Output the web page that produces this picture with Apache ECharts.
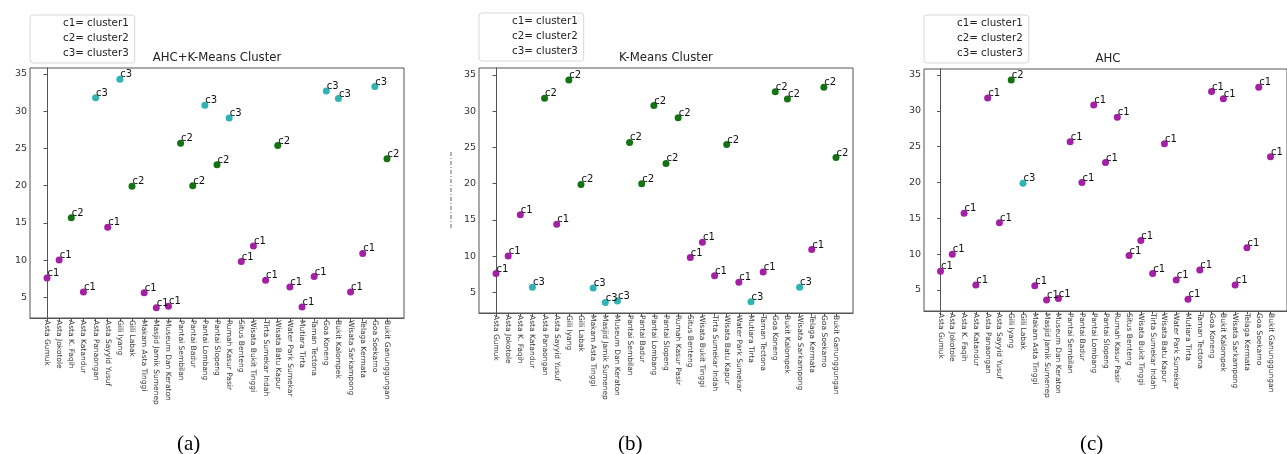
<!DOCTYPE html>
<html>
<head>
<meta charset="utf-8">
<script src="https://cdn.jsdelivr.net/npm/echarts@6/dist/echarts.min.js"></script>
<style>
html,body{margin:0;padding:0;background:#fff;}
#chart{width:1287px;height:454px;}
</style>
</head>
<body>
<div id="chart"></div>
<script>
// ---- data ----
const categories = ['Asta Gumuk','Asta Jokotole','Asta K. Faqih','Asta Katandur','Asta Panaongan','Asta Sayyid Yusuf','Gili Iyang','Gili Labak','Makam Asta Tinggi','Masjid Jamik Sumenep','Museum Dan Keraton','Pantai Sembilan','Pantai Badur','Pantai Lombang','Pantai Slopeng','Rumah Kasur Pasir','Situs Benteng','Wisata Bukit Tinggi','Tirta Sumekar Indah','Wisata Batu Kapur','Water Park Sumekar','Mutiara Tirta','Taman Tectona','Goa Koneng','Bukit Kalompek','Wisata Sarkampong','Telaga Kermata','Goa Soekarno','Bukit Ganunggungan'];
const values = [7.6,10.0,15.7,5.7,31.8,14.4,34.3,19.9,5.6,3.6,3.8,25.7,20.0,30.8,22.8,29.1,9.8,11.9,7.3,25.4,6.4,3.7,7.8,32.7,31.7,5.7,10.9,33.3,23.6];
const clusterAhcKmeans = [1,1,2,1,3,1,3,2,1,1,1,2,2,3,2,3,1,1,1,2,1,1,1,3,3,1,1,3,2];
const clusterKmeans    = [1,1,1,3,2,1,2,2,3,3,3,2,2,2,2,2,1,1,1,2,1,3,1,2,2,3,1,2,2];
const clusterAhc       = [1,1,1,1,1,1,2,3,1,1,1,1,1,1,1,1,1,1,1,1,1,1,1,1,1,1,1,1,1];
const clusterNames = ['c1= cluster1','c2= cluster2','c3= cluster3'];
const clusterTags = ['c1','c2','c3'];
const panelTitles = ['AHC+K-Means Cluster','K-Means Cluster','AHC'];
const panelCaptions = ['(a)','(b)','(c)'];
const yTicks = [5,10,15,20,25,30,35];
const xTicks = categories.map((c,i)=>i);

// ---- layout / style ----
const colors = ['#a31fa4','#137313','#2fb3b3'];
const panels = [
  {assign: clusterAhcKmeans, grid:{left:30, top:68, width:374, height:250}, y:[2.22,35.8], legend:{left:30, top:15}, titleX:217, titleY:51, capX:193},
  {assign: clusterKmeans,    grid:{left:479, top:68, width:374, height:245}, y:[2.14,35.97], legend:{left:479, top:13}, titleX:666, titleY:51, capX:634},
  {assign: clusterAhc,       grid:{left:924, top:69, width:372, height:242}, y:[2.07,35.84], legend:{left:924, top:15}, titleX:1108, titleY:52, capX:1096}
];
const font = 'DejaVu Sans';
const axisColor = '#555';

const option = {
  animation:false,
  backgroundColor:'#fff',
  title: [], grid: [], xAxis: [], yAxis: [], legend: [], series: [], graphic: []
};

panels.forEach((p, pi) => {
  option.grid.push(Object.assign({show:true, borderColor:axisColor, borderWidth:1, backgroundColor:'#fff', containLabel:false}, p.grid));
  option.title.push({
    text: panelTitles[pi], left: p.titleX, top: p.titleY, textAlign:'center', padding:0,
    textStyle:{fontFamily:font, fontSize:11.7, fontWeight:'normal', color:'#222', lineHeight:14}
  });
  option.xAxis.push({
    type:'value', gridIndex:pi, min:-1.4, max:29.4,
    splitLine:{show:false},
    axisLine:{show:true, lineStyle:{color:axisColor}},
    axisTick:{show:true, length:3.5, customValues:xTicks, lineStyle:{color:axisColor}},
    axisLabel:{rotate:-90, margin:2, customValues:xTicks, formatter:(v)=>categories[Math.round(v)] || '',
      fontFamily:font, fontSize:7.5, color:'#333'}
  });
  option.yAxis.push({
    type:'value', gridIndex:pi, min:p.y[0], max:p.y[1],
    splitLine:{show:false},
    axisLine:{show:true, lineStyle:{color:axisColor}},
    axisTick:{show:true, length:3.5, customValues:yTicks, lineStyle:{color:axisColor}},
    axisLabel:{margin:3, customValues:yTicks, fontFamily:font, fontSize:9.5, color:'#333'}
  });
  option.legend.push({
    orient:'vertical', left:p.legend.left, top:p.legend.top,
    data: clusterNames, icon:'rect', itemWidth:20, itemHeight:10, itemGap:0,
    itemStyle:{opacity:0},
    padding:[1,6,2,8], backgroundColor:'#fff', borderColor:'#d8d8d8', borderWidth:1, borderRadius:3,
    textStyle:{fontFamily:font, fontSize:10.3, color:'#222', lineHeight:15},
    selectedMode:false
  });
  [0,1,2].forEach(k => {
    const data = [];
    p.assign.forEach((c, i) => { if (c === k+1) data.push([i, values[i]]); });
    option.series.push({
      type:'scatter', name: clusterNames[k], xAxisIndex:pi, yAxisIndex:pi,
      data, symbol:'circle', symbolSize:7,
      itemStyle:{color:colors[k], opacity:1},
      label:{show:true, formatter: clusterTags[k], position:[4,-6], align:'left', verticalAlign:'top',
        fontFamily:font, fontSize:10, color:'#111'},
      emphasis:{disabled:true}
    });
  });
  option.graphic.push({
    type:'text', left: p.capX - 16, top: 434,
    style:{text: panelCaptions[pi], fontFamily:'Liberation Serif', fontSize:21, fill:'#000'}
  });
});

// faint dash-dot artifact at the left of panel (b)
option.graphic.push({
  type:'line', shape:{x1:451, y1:152, x2:451, y2:228},
  style:{stroke:'#666', lineWidth:1, lineDash:[4,2,1,2]}
});

const chart = echarts.init(document.getElementById('chart'), null, {renderer:'canvas', width:1287, height:454});
chart.setOption(option);
</script>
</body>
</html>
